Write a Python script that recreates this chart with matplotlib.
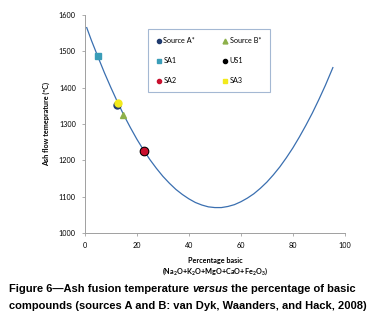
import matplotlib
matplotlib.use("Agg")
import matplotlib.pyplot as plt
from matplotlib.lines import Line2D

plt.rcParams['mathtext.fontset'] = 'custom'
plt.rcParams['mathtext.rm'] = 'Lato:bold'
plt.rcParams['mathtext.it'] = 'Lato:bold'
plt.rcParams['mathtext.bf'] = 'Lato:bold'

# curve
curve_x = [0.7, 2.5, 5, 7.5, 10, 12.5, 15, 17.5, 20, 22.5, 25, 27.5, 30, 32.5, 35,
           37.5, 40, 42.5, 45, 47.5, 50, 52.5, 55, 57.5, 60, 62.5, 65, 67.5, 70,
           72.5, 75, 77.5, 80, 82.5, 85, 87.5, 90, 92.5, 95.4]
curve_t = [1565, 1530, 1485, 1441, 1400, 1361, 1324, 1290, 1258, 1229, 1202,
           1178, 1156, 1137, 1120, 1106, 1094, 1084, 1077, 1072, 1070, 1070,
           1073, 1078, 1086, 1096, 1108, 1123, 1140, 1160, 1182, 1207, 1234,
           1264, 1296, 1330, 1367, 1406, 1455]

# sample points
source_a = (12.5, 1352)
source_b = (14.7, 1325)
sa1 = (5.0, 1487)
us1 = (22.7, 1226)
sa2 = (22.7, 1226)
sa3 = (12.7, 1357)

x_ticks = [0, 20, 40, 60, 80, 100]
y_ticks = [1000, 1100, 1200, 1300, 1400, 1500, 1600]

fig = plt.figure(figsize=(3.74, 3.31), dpi=100)
ax = fig.add_axes([0.227, 0.296, 0.695, 0.659])

ax.plot(curve_x, curve_t, color='#3A6FB0', lw=0.9, zorder=2)

ax.plot(*source_a, 'o', color='#1F3A6E', ms=5, zorder=3)
ax.plot(*us1, 'o', color='black', ms=6, zorder=3)
ax.plot(*sa2, 'o', color='#C8102E', ms=4.5, zorder=4)
ax.plot(*sa3, 'o', color='#F2EA1C', ms=5, zorder=4)
ax.plot(*source_b, '^', color='#8DB04A', ms=5, zorder=4)
ax.plot(*sa1, 's', color='#3A9DB8', ms=5, zorder=4)

ax.set_xlim(0, 100)
ax.set_ylim(1000, 1600)
ax.set_xticks(x_ticks)
ax.set_yticks(y_ticks)
for side in ['top', 'right']:
    ax.spines[side].set_visible(False)
for side in ['left', 'bottom']:
    ax.spines[side].set_color('#A0A0A0')
    ax.spines[side].set_linewidth(0.7)
ax.tick_params(colors='#A0A0A0', labelcolor='black', labelsize=5.2,
               length=2.5, width=0.6, pad=4)
for lab in ax.get_xticklabels() + ax.get_yticklabels():
    lab.set_family('Lato')

ax.set_ylabel('Ash flow temeprature (\u00baC)', fontsize=5.2, fontweight='bold',
              family='Lato', labelpad=6)
ax.set_xlabel('Percentage basic\n(Na$_2$O+K$_2$O+MgO+CaO+Fe$_2$O$_3$)',
              fontsize=5.2, fontweight='bold', family='Lato', labelpad=6,
              linespacing=1.15)

handles = [
    Line2D([], [], marker='o', ls='', color='#1F3A6E', ms=3),
    Line2D([], [], marker='s', ls='', color='#3A9DB8', ms=3.5),
    Line2D([], [], marker='o', ls='', color='#C8102E', ms=3),
    Line2D([], [], marker='^', ls='', color='#8DB04A', ms=3.5),
    Line2D([], [], marker='o', ls='', color='black', ms=3),
    Line2D([], [], marker='s', ls='', color='#F2EA1C', ms=3.5),
]
labels = ['Source A*', 'SA1', 'SA2', 'Source B*', 'US1', 'SA3']
leg = ax.legend(handles, labels, ncol=2, loc='upper left',
                bbox_to_anchor=(0.242, 0.936), borderaxespad=0,
                prop={'family': 'Lato', 'size': 5.2},
                frameon=True, fancybox=False, handlelength=0.7, handletextpad=0.3,
                labelspacing=1.8, columnspacing=3.8, borderpad=1.15)
leg.get_frame().set_edgecolor('#8EA6C8')
leg.get_frame().set_linewidth(0.8)

# caption with italic word
cap_font = {'family': 'Liberation Sans', 'fontsize': 8.0, 'fontweight': 'bold'}
r = fig.canvas.get_renderer()
x0, y1 = 9 / 374, 1 - 289 / 331
t1 = fig.text(x0, y1, 'Figure 6\u2014Ash fusion temperature ', va='center', **cap_font)
w1 = t1.get_window_extent(r).width / fig.bbox.width
t2 = fig.text(x0 + w1, y1, 'versus', va='center', style='italic', **cap_font)
w2 = t2.get_window_extent(r).width / fig.bbox.width
fig.text(x0 + w1 + w2, y1, ' the percentage of basic', va='center', **cap_font)
fig.text(x0, 1 - 306 / 331,
         'compounds (sources A and B: van Dyk, Waanders, and Hack, 2008)',
         va='center', **cap_font)

fig.savefig('out.png', dpi=100)
